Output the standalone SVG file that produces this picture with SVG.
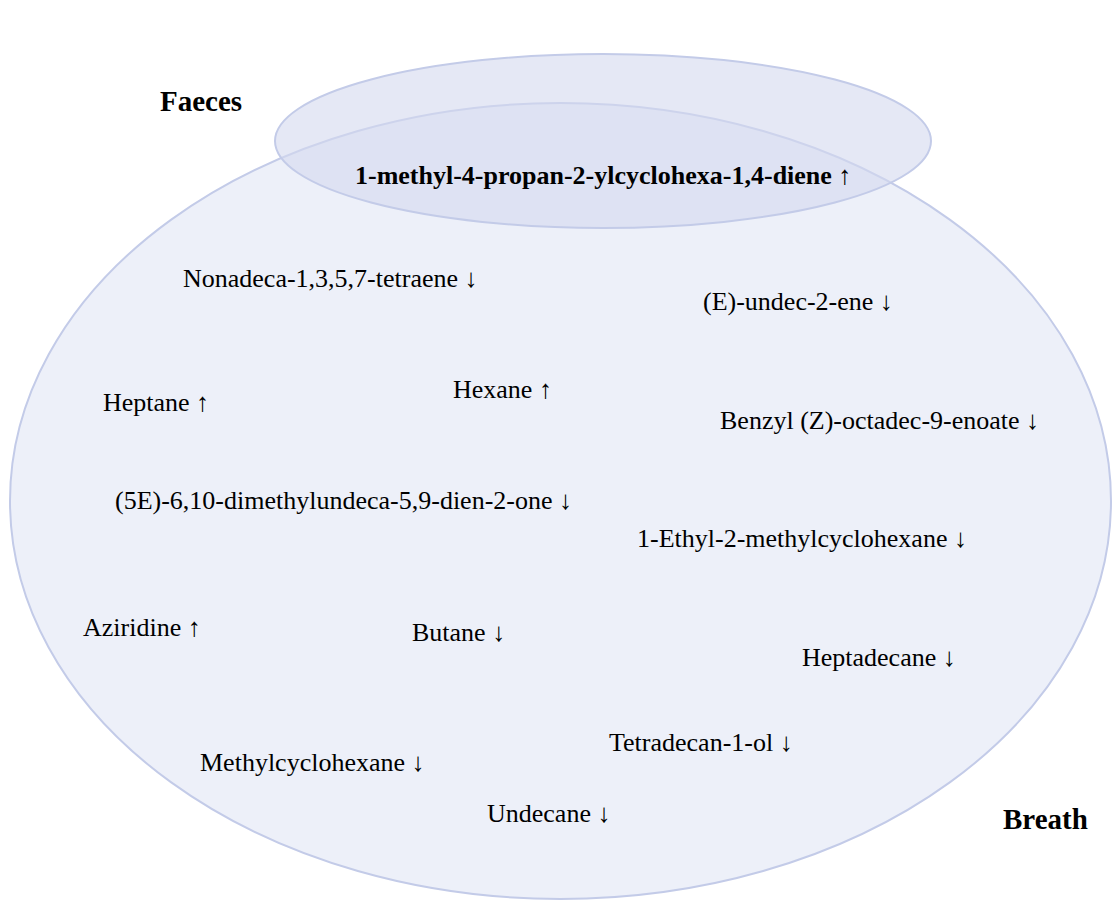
<svg xmlns="http://www.w3.org/2000/svg" width="1112" height="902" viewBox="0 0 1112 902">
<style>
.t{font-size:26px;fill:#000}
.b{font-size:26px;font-weight:bold;fill:#000}
.h{font-size:29px;font-weight:bold;fill:#000}
.set{stroke:#c3cbe8;stroke-width:2}
</style>
<rect width="1112" height="902" fill="#ffffff"/>
<g id="breath">
<ellipse class="set" cx="560.5" cy="501" rx="550.5" ry="398" fill="#edf0f9"/>
</g>
<g id="faeces">
<ellipse class="set" cx="603" cy="141" rx="328" ry="87" fill="#d3d9ee" fill-opacity="0.6"/>
</g>
<g id="connectors"></g>
<g id="labels" font-family="'Liberation Serif', 'Times New Roman', 'DejaVu Serif', serif">
<text class="h" x="160" y="111">Faeces</text>
<text class="h" x="1003" y="829">Breath</text>
<text class="b" x="355" y="184">1-methyl-4-propan-2-ylcyclohexa-1,4-diene ↑</text>
<text class="t" x="183" y="287">Nonadeca-1,3,5,7-tetraene ↓</text>
<text class="t" x="703" y="310">(E)-undec-2-ene ↓</text>
<text class="t" x="103" y="411">Heptane ↑</text>
<text class="t" x="453" y="398">Hexane ↑</text>
<text class="t" x="720" y="429">Benzyl (Z)-octadec-9-enoate ↓</text>
<text class="t" x="115" y="509">(5E)-6,10-dimethylundeca-5,9-dien-2-one ↓</text>
<text class="t" x="637" y="547">1-Ethyl-2-methylcyclohexane ↓</text>
<text class="t" x="83" y="636">Aziridine ↑</text>
<text class="t" x="412" y="641">Butane ↓</text>
<text class="t" x="802" y="666">Heptadecane ↓</text>
<text class="t" x="609" y="751">Tetradecan-1-ol ↓</text>
<text class="t" x="200" y="771">Methylcyclohexane ↓</text>
<text class="t" x="487" y="822">Undecane ↓</text>
</g>
</svg>
